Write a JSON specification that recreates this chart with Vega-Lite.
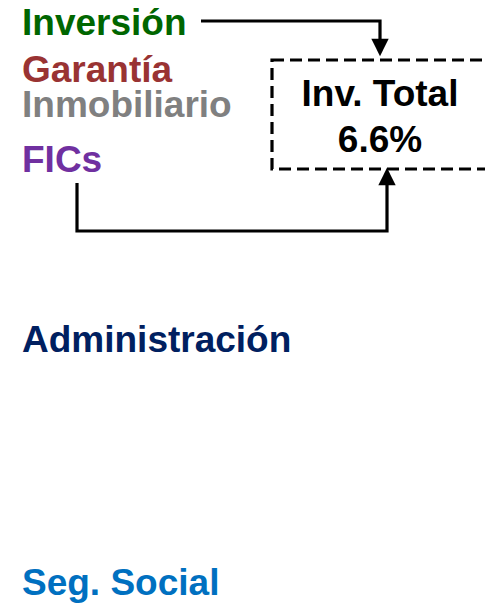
{
  "$schema": "https://vega.github.io/schema/vega-lite/v6.json",
  "autosize": {"type": "fit", "contains": "padding"},
  "width": 485,
  "height": 604,
  "padding": 0,
  "background": "white",
  "config": {"view": {"stroke": null}},
  "datasets": {
    "labels": [
      {"label": "Inversión", "x": 22, "y": 35, "color": "#006600", "group": "side"},
      {"label": "Garantía", "x": 22, "y": 82, "color": "#993333", "group": "side"},
      {"label": "Inmobiliario", "x": 22, "y": 117, "color": "#808080", "group": "side"},
      {"label": "FICs", "x": 22, "y": 172, "color": "#7030A0", "group": "side"},
      {"label": "Administración", "x": 22, "y": 352, "color": "#002060", "group": "side"},
      {"label": "Seg. Social", "x": 22, "y": 595, "color": "#0070C0", "group": "side"},
      {"label": "Inv. Total", "x": 380, "y": 106, "color": "#000000", "group": "box"},
      {"label": "6.6%", "x": 380, "y": 152, "color": "#000000", "group": "box"}
    ],
    "paths": [
      {"path": "inv", "step": 1, "x": 201, "y": 21},
      {"path": "inv", "step": 2, "x": 380, "y": 21},
      {"path": "inv", "step": 3, "x": 380, "y": 42},
      {"path": "fic", "step": 1, "x": 77, "y": 183},
      {"path": "fic", "step": 2, "x": 77, "y": 231},
      {"path": "fic", "step": 3, "x": 387, "y": 231},
      {"path": "fic", "step": 4, "x": 387, "y": 184}
    ],
    "heads": [
      {"dir": "down", "x": 380, "y": 47.5},
      {"dir": "up", "x": 387, "y": 176.5}
    ],
    "box": [
      {"x": 272, "x2": 497, "y": 60, "y2": 169}
    ]
  },
  "layer": [
    {
      "data": {"name": "box"},
      "mark": {"type": "rect", "fill": null, "filled": false, "stroke": "#000000", "strokeWidth": 3.2, "strokeDash": [12, 6], "clip": true},
      "encoding": {
        "x": {"field": "x", "type": "quantitative", "scale": {"domain": [0, 485], "nice": false, "zero": false}, "axis": null},
        "x2": {"field": "x2"},
        "y": {"field": "y", "type": "quantitative", "scale": {"domain": [0, 604], "nice": false, "zero": false, "reverse": true}, "axis": null},
        "y2": {"field": "y2"}
      }
    },
    {
      "data": {"name": "paths"},
      "mark": {"type": "line", "stroke": "#000000", "strokeWidth": 3.2, "strokeJoin": "miter", "strokeCap": "butt"},
      "encoding": {
        "x": {"field": "x", "type": "quantitative", "scale": {"domain": [0, 485], "nice": false, "zero": false}, "axis": null},
        "y": {"field": "y", "type": "quantitative", "scale": {"domain": [0, 604], "nice": false, "zero": false, "reverse": true}, "axis": null},
        "detail": {"field": "path"},
        "order": {"field": "step", "type": "quantitative"}
      }
    },
    {
      "data": {"name": "heads"},
      "transform": [{"filter": "datum.dir == 'down'"}],
      "mark": {"type": "point", "filled": true, "color": "#000000", "opacity": 1, "size": 300, "shape": "M-1,-1L1,-1L0,1Z"},
      "encoding": {
        "x": {"field": "x", "type": "quantitative", "scale": {"domain": [0, 485], "nice": false, "zero": false}, "axis": null},
        "y": {"field": "y", "type": "quantitative", "scale": {"domain": [0, 604], "nice": false, "zero": false, "reverse": true}, "axis": null}
      }
    },
    {
      "data": {"name": "heads"},
      "transform": [{"filter": "datum.dir == 'up'"}],
      "mark": {"type": "point", "filled": true, "color": "#000000", "opacity": 1, "size": 300, "shape": "M-1,1L1,1L0,-1Z"},
      "encoding": {
        "x": {"field": "x", "type": "quantitative", "scale": {"domain": [0, 485], "nice": false, "zero": false}, "axis": null},
        "y": {"field": "y", "type": "quantitative", "scale": {"domain": [0, 604], "nice": false, "zero": false, "reverse": true}, "axis": null}
      }
    },
    {
      "data": {"name": "labels"},
      "transform": [{"filter": "datum.group == 'side'"}],
      "mark": {"type": "text", "font": "Liberation Sans", "fontWeight": "bold", "fontSize": 37, "baseline": "alphabetic", "align": "left"},
      "encoding": {
        "x": {"field": "x", "type": "quantitative", "scale": {"domain": [0, 485], "nice": false, "zero": false}, "axis": null},
        "y": {"field": "y", "type": "quantitative", "scale": {"domain": [0, 604], "nice": false, "zero": false, "reverse": true}, "axis": null},
        "text": {"field": "label"},
        "color": {"field": "color", "type": "nominal", "scale": null}
      }
    },
    {
      "data": {"name": "labels"},
      "transform": [{"filter": "datum.group == 'box'"}],
      "mark": {"type": "text", "font": "Liberation Sans", "fontWeight": "bold", "fontSize": 37, "baseline": "alphabetic", "align": "center"},
      "encoding": {
        "x": {"field": "x", "type": "quantitative", "scale": {"domain": [0, 485], "nice": false, "zero": false}, "axis": null},
        "y": {"field": "y", "type": "quantitative", "scale": {"domain": [0, 604], "nice": false, "zero": false, "reverse": true}, "axis": null},
        "text": {"field": "label"},
        "color": {"field": "color", "type": "nominal", "scale": null}
      }
    }
  ]
}
